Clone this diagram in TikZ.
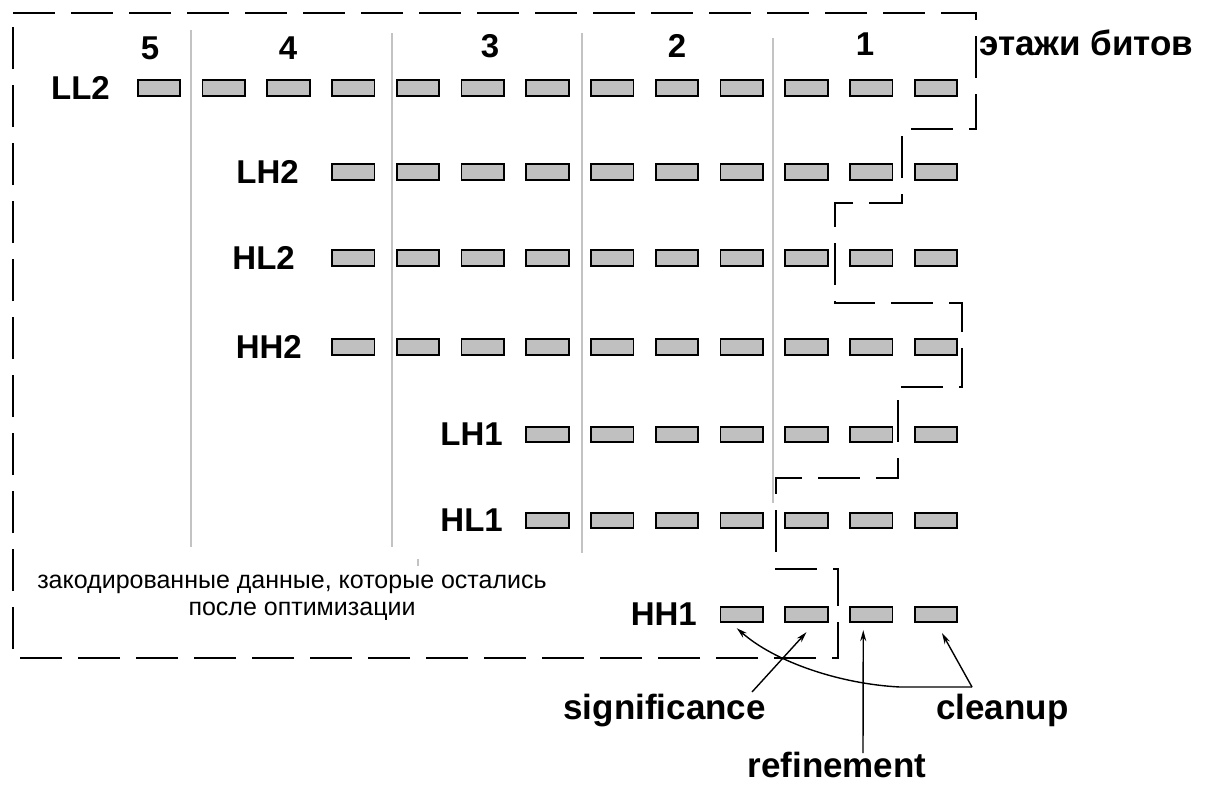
\documentclass[tikz,border=0pt]{standalone}
\usepackage{fontspec}
\setmainfont{Liberation Sans}
\usetikzlibrary{arrows.meta,calc}
\definecolor{boxgray}{RGB}{192,192,192}
\definecolor{sepgray}{RGB}{195,195,195}
\begin{document}
\begin{tikzpicture}[x=1pt,y=-1pt,
  bit/.style={draw=black,line width=1.8pt,fill=boxgray,minimum width=42.5pt,minimum height=15.5pt,inner sep=0pt},
  lbl/.style={font=\fontsize{33}{36}\selectfont\bfseries,inner sep=0pt,anchor=east},
  num/.style={font=\fontsize{33}{36}\selectfont\bfseries,inner sep=0pt},
  big/.style={font=\fontsize{35}{38}\selectfont\bfseries,inner sep=0pt},
  note/.style={font=\fontsize{25}{28}\selectfont,inner sep=0pt,anchor=base},
  sep/.style={draw=sepgray,line width=1.6pt},
  bound/.style={draw=black,line width=2pt,dash pattern=on 42pt off 16pt},
  arr/.style={draw=black,line width=1.4pt,-{Stealth[length=11pt,width=6pt]}}]
\useasboundingbox (0,0) rectangle (1214,785);
\fill[white] (0,0) rectangle (1214,785);
% bit-plane separators
\draw[sep] (191,30) -- (191,547);
\draw[sep] (392,33) -- (392,547);
\draw[sep] (582,33) -- (582,553);
\draw[sep] (773,38) -- (773,503);
\draw[sep] (418,559) -- (418,566);
% column numbers
\node[num] (c5) at (150,48) {5};
\node[num] (c4) at (288,48) {4};
\node[num] (c3) at (490,46) {3};
\node[num] (c2) at (677,46) {2};
\node[num] (c1) at (865,44) {1};
\node[big,anchor=base west] (title) at (979,55) {этажи битов};
% rows
\foreach \name/\lab/\yy/\ks/\lx in {ll2/LL2/88/0/110, lh2/LH2/172/3/299, hl2/HL2/258/3/295, hh2/HH2/347/3/302, lh1/LH1/434.5/6/503, hl1/HL1/520.5/6/503, hh1/HH1/614.5/9/697}{
  \node[lbl] (\name-lab) at (\lx,\yy) {\lab};
  \foreach \k in {\ks,...,12}{
    \node[bit] (\name-\k) at ({159+64.75*\k},\yy) {};
  }
}
% truncation boundary
\draw[bound] (13,13) -- (976,13) -- (976,129) -- (902,129) -- (902,203) -- (835,203) -- (835,303) -- (962,303) -- (962,387) -- (898,387) -- (898,478) -- (776,478) -- (776,569) -- (838,569) -- (838,658) -- (13,658) -- cycle;
% note
\node[note] (note1) at (292,588) {закодированные данные, которые остались};
\node[note] (note2) at (302,615) {после оптимизации};
% pass labels
\node[big,anchor=base east] (sig) at (766,719) {significance};
\node[big,anchor=base west] (cln) at (936,719) {cleanup};
\node[big,anchor=base] (ref) at (837,777) {refinement};
\coordinate (sigfoot) at (752,692);
\coordinate (clnfoot) at (972,687);
\coordinate (reffoot) at (863,753);
\draw[arr] (sigfoot) -- ($(hh1-10.south)+(0,9)$);
\draw[arr] (clnfoot) -- ($(hh1-12.south)+(6,10)$);
\draw[arr] (clnfoot) -- ++(-72,0) .. controls (840,684) and (775,662) .. ($(hh1-9.south)+(-5,5)$);
\draw[arr] (reffoot) -- ($(hh1-11.south)+(-8,7)$);
\end{tikzpicture}
\end{document}
